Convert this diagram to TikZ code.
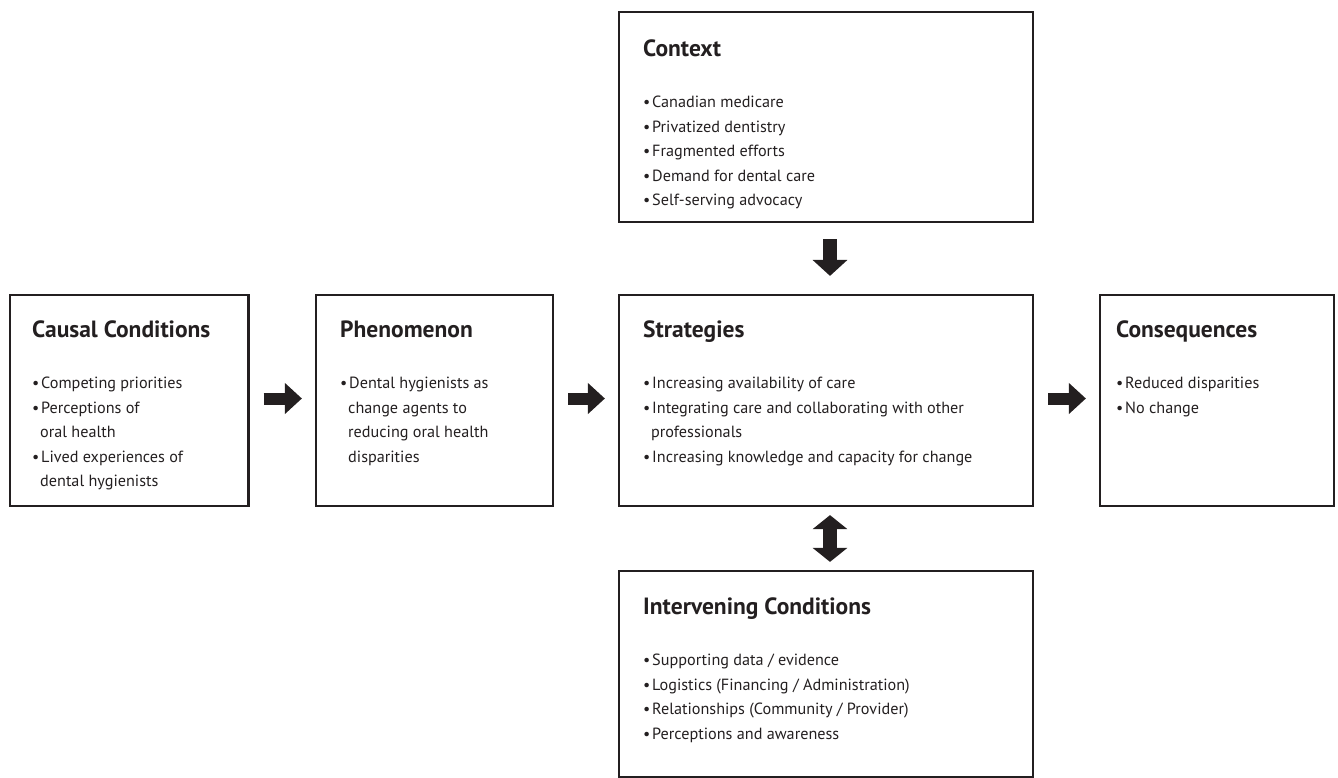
\documentclass[tikz,border=0pt]{standalone}
\usepackage{fontspec}
\setmainfont{PT Sans}
\usetikzlibrary{arrows.meta,positioning}
\definecolor{inkblack}{HTML}{231F20}
\newcommand{\itm}{\makebox[9pt][l]{\raisebox{0pt}{\fontsize{16}{16}\selectfont\textbullet}}}
\newcommand{\cont}{\hspace*{8pt}}
\newcommand{\ttl}[1]{{\fontsize{23.5}{24}\selectfont\bfseries #1}\\[26.6pt]}
\tikzset{
  box/.style={draw=inkblack, line width=2.2pt, rectangle, inner sep=0pt},
  txt/.style={anchor=north west, align=left, inner sep=0pt, text=inkblack,
    font=\fontsize{16.2}{24.4}\selectfont},
  blockarrow/.style={draw=inkblack, line width=12pt,
    -{Triangle[length=17pt,width=30pt]}},
  bothway/.style={draw=inkblack, line width=14pt,
    {Triangle[length=14pt,width=34pt]}-{Triangle[length=14pt,width=34pt]}}
}
\begin{document}
\begin{tikzpicture}[x=1pt, y={(0pt,-1pt)}]
    \useasboundingbox (0,0) rectangle (1338,777);
    \node[box, minimum width=238.5pt, minimum height=211pt] (causal) at (129.25,400.5) {};
    \node[box, minimum width=237pt, minimum height=211pt] (phenom) at (434.5,400.5) {};
    \node[box, minimum width=414pt, minimum height=211pt] (strat) at (826,400.5) {};
    \node[box, minimum width=234pt, minimum height=211pt] (conseq) at (1217,400.5) {};
    \node[box, minimum width=414pt, minimum height=210pt] (context) at (826,117) {};
    \node[box, minimum width=414pt, minimum height=206pt] (interv) at (826,674) {};

    \node[txt] (causaltxt) at (32,321) {\ttl{Causal Conditions}
        \itm Competing priorities\\
        \itm Perceptions of\\
        \cont oral health\\
        \itm Lived experiences of\\
        \cont dental hygienists};
    \node[txt] (phenomtxt) at (340,321) {\ttl{Phenomenon}
        \itm Dental hygienists as\\
        \cont change agents to\\
        \cont reducing oral health\\
        \cont disparities};
    \node[txt] (strattxt) at (643,321) {\ttl{Strategies}
        \itm Increasing availability of care\\
        \itm Integrating care and collaborating with other\\
        \cont professionals\\
        \itm Increasing knowledge and capacity for change};
    \node[txt] (conseqtxt) at (1116,321) {\ttl{Consequences}
        \itm Reduced disparities\\
        \itm No change};
    \node[txt] (contexttxt) at (643,40) {\ttl{Context}
        \itm Canadian medicare\\
        \itm Privatized dentistry\\
        \itm Fragmented efforts\\
        \itm Demand for dental care\\
        \itm Self-serving advocacy};
    \node[txt] (intervtxt) at (643,598) {\ttl{Intervening Conditions}
        \itm Supporting data / evidence\\
        \itm Logistics (Financing / Administration)\\
        \itm Relationships (Community / Provider)\\
        \itm Perceptions and awareness};

    \draw[blockarrow, shorten <=14pt, shorten >=13pt] ([yshift=2pt]causal.east) -- ([yshift=2pt]phenom.west);
    \draw[blockarrow, shorten <=14pt, shorten >=13pt] ([yshift=2pt]phenom.east) -- ([yshift=2pt]strat.west);
    \draw[blockarrow, shorten <=14pt, shorten >=13pt] ([yshift=2pt]strat.east) -- ([yshift=2pt]conseq.west);
    \draw[blockarrow, line width=14pt, -{Triangle[length=16pt,width=34pt]}, shorten <=16pt, shorten >=18pt]
        ([xshift=4pt]context.south) -- ([xshift=4pt]strat.north);
    \draw[bothway, shorten <=8pt, shorten >=8pt] ([xshift=4pt]strat.south) -- ([xshift=4pt]interv.north);
\end{tikzpicture}
\end{document}
